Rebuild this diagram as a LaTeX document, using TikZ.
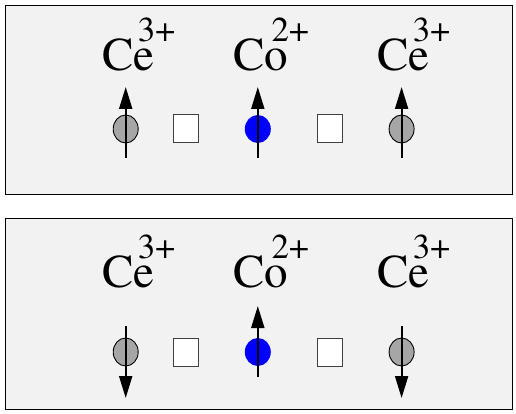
\documentclass[tikz,border=0pt]{standalone}
\usepackage[T1]{fontenc}
\usepackage{mathptmx}
\usepackage{xcolor}
\usetikzlibrary{arrows.meta, shapes.geometric}

\definecolor{panelgray}{RGB}{242,242,242}
\definecolor{cegray}{RGB}{166,166,166}
\newcommand{\ionlab}[2]{#1\hspace{-16.5pt}\raisebox{29pt}{\fontsize{35}{35}\selectfont #2}}

\begin{document}
\begin{tikzpicture}[x=1pt, y=-1pt,
        panel/.style={draw, line width=1.3pt, fill=panelgray},
        ceatom/.style={ellipse, draw, line width=0.9pt, fill=cegray, minimum width=25pt, minimum height=28pt, inner sep=0pt},
        coatom/.style={ellipse, fill=blue, minimum width=26pt, minimum height=28pt, inner sep=0pt},
        vacancy/.style={rectangle, draw=black!75, line width=1pt, fill=white, minimum width=25pt, minimum height=28pt, inner sep=0pt},
        ionlabel/.style={anchor=base west, inner sep=0pt, font=\fontsize{47}{47}\selectfont},
        spin/.style={-{Triangle[length=22pt, width=13pt]}, line width=2pt}
    ]
        \useasboundingbox (0,0) rectangle (516,414);

        % Top panel: ferro
        \node[panel, minimum width=507pt, minimum height=189pt, anchor=north west] (toppanel) at (5,5) {};
        \node[ceatom] (ceA) at (125.7,129) {};
        \node[vacancy] (vacA) at (185.5,129) {};
        \node[coatom] (coA) at (257.8,129) {};
        \node[vacancy] (vacB) at (329.5,129) {};
        \node[ceatom] (ceB) at (401.6,129) {};
        \draw[spin] (ceA.center) ++(0,29) -- ++(0,-71);
        \draw[spin] (coA.center) ++(0,29) -- ++(0,-71);
        \draw[spin] (ceB.center) ++(0,29) -- ++(0,-71);
        \node[ionlabel] (labceA) at (102,71) {\ionlab{Ce}{3+}};
        \node[ionlabel] (labcoA) at (233,71) {\ionlab{Co}{2+}};
        \node[ionlabel] (labceB) at (377,71) {\ionlab{Ce}{3+}};

        % Bottom panel: antiparallel
        \node[panel, minimum width=507pt, minimum height=191pt, anchor=north west] (botpanel) at (5,218) {};
        \node[ceatom] (ceC) at (125.7,352) {};
        \node[vacancy] (vacC) at (185.5,352) {};
        \node[coatom] (coC) at (257.8,352) {};
        \node[vacancy] (vacD) at (329.5,352) {};
        \node[ceatom] (ceD) at (401.6,352) {};
        \draw[spin] (ceC.center) ++(0,-26) -- ++(0,72);
        \draw[spin] (coC.center) ++(0,25) -- ++(0,-71);
        \draw[spin] (ceD.center) ++(0,-26) -- ++(0,72);
        \node[ionlabel] (labceC) at (102,287) {\ionlab{Ce}{3+}};
        \node[ionlabel] (labcoC) at (233,287) {\ionlab{Co}{2+}};
        \node[ionlabel] (labceD) at (377,287) {\ionlab{Ce}{3+}};
    \end{tikzpicture}
\end{document}
